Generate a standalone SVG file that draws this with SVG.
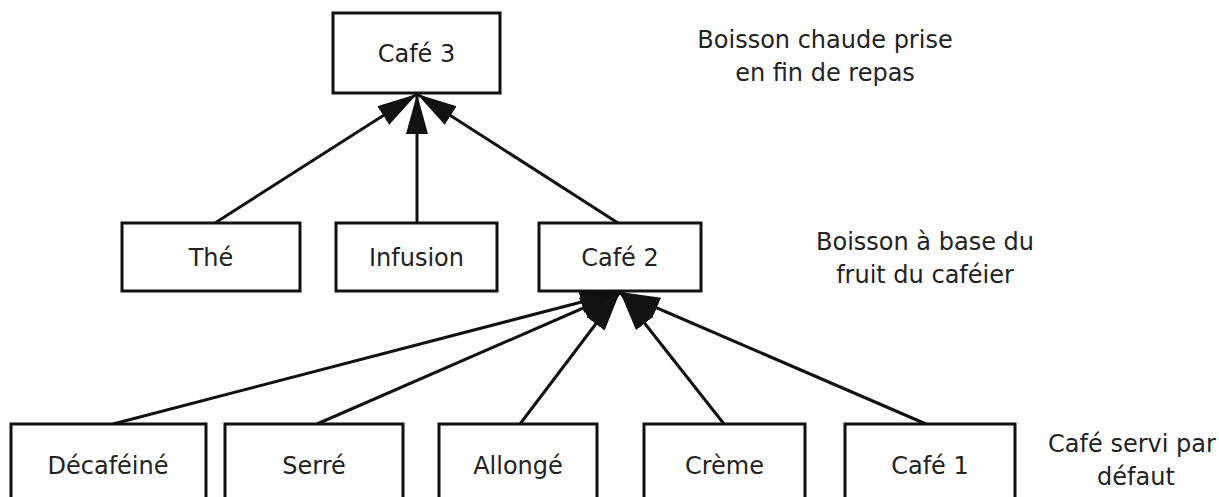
<svg xmlns="http://www.w3.org/2000/svg" width="1219" height="497" viewBox="0 0 1219 497">
<style>
.box{fill:#fff;stroke:#111;stroke-width:3}
.lbl{font-family:"DejaVu Sans",Verdana,sans-serif;font-size:24px;fill:#222;text-anchor:middle}
.edge{stroke:#111;stroke-width:3;fill:none;marker-end:url(#arr)}
</style>
<defs>
<marker id="arr" markerUnits="userSpaceOnUse" markerWidth="44" markerHeight="24" refX="40" refY="11" orient="auto">
<path d="M0,0 L40,11 L0,22 z" fill="#111"/>
</marker>
</defs>
<rect width="1219" height="497" fill="#fff"/>
<g id="connectors">
<line class="edge" x1="215" y1="223" x2="417" y2="94"/>
<line class="edge" x1="417" y1="223" x2="417" y2="94"/>
<line class="edge" x1="618" y1="223" x2="417" y2="94"/>
<line class="edge" x1="113" y1="424" x2="620" y2="292"/>
<line class="edge" x1="317" y1="424" x2="620" y2="292"/>
<line class="edge" x1="520" y1="424" x2="620" y2="292"/>
<line class="edge" x1="724" y1="424" x2="620" y2="292"/>
<line class="edge" x1="926" y1="424" x2="620" y2="292"/>
</g>
<g id="cafe3"><rect class="box" x="333" y="13" width="167" height="80"/><text class="lbl" x="416.5" y="62">Café 3</text></g>
<g id="the"><rect class="box" x="122" y="223" width="178" height="68"/><text class="lbl" x="211" y="266">Thé</text></g>
<g id="infusion"><rect class="box" x="336" y="223" width="161" height="68"/><text class="lbl" x="416.5" y="266">Infusion</text></g>
<g id="cafe2"><rect class="box" x="539" y="223" width="162" height="68"/><text class="lbl" x="620" y="266">Café 2</text></g>
<g id="decafeine"><rect class="box" x="11" y="424" width="195" height="80"/><text class="lbl" x="108" y="474">Décaféiné</text></g>
<g id="serre"><rect class="box" x="225" y="424" width="178" height="80"/><text class="lbl" x="314" y="474">Serré</text></g>
<g id="allonge"><rect class="box" x="439" y="424" width="158" height="80"/><text class="lbl" x="518" y="474">Allongé</text></g>
<g id="creme"><rect class="box" x="644" y="424" width="161" height="80"/><text class="lbl" x="724.5" y="474">Crème</text></g>
<g id="cafe1"><rect class="box" x="845" y="424" width="170" height="80"/><text class="lbl" x="930" y="474">Café 1</text></g>
<g id="notes">
<text class="lbl" x="825" y="48">Boisson chaude prise</text>
<text class="lbl" x="825" y="81">en fin de repas</text>
<text class="lbl" x="925" y="250">Boisson à base du</text>
<text class="lbl" x="925" y="283">fruit du caféier</text>
<text class="lbl" x="1132" y="452">Café servi par</text>
<text class="lbl" x="1136" y="485">défaut</text>
</g>
</svg>
